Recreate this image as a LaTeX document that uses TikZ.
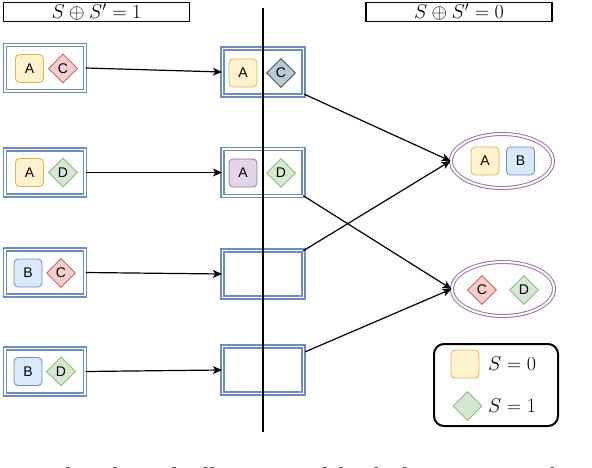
\RequirePackage{fix-cm}
\documentclass[tikz,border=0pt]{standalone}
\usepackage{fontspec}
\newfontfamily\lab{Liberation Sans}
\newfontfamily\capfont{Liberation Serif}
\usetikzlibrary{shapes.geometric,arrows.meta,calc}
\definecolor{ylwF}{HTML}{FFF2CC}\definecolor{ylwS}{HTML}{D6B656}
\definecolor{bluF}{HTML}{DAE8FC}\definecolor{bluS}{HTML}{6C8EBF}
\definecolor{redF}{HTML}{F8CECC}\definecolor{redS}{HTML}{B85450}
\definecolor{grnF}{HTML}{D5E8D4}\definecolor{grnS}{HTML}{82B366}
\definecolor{purF}{HTML}{E1D5E7}\definecolor{purS}{HTML}{9673A6}
\definecolor{gryF}{HTML}{BAC8D3}\definecolor{gryS}{HTML}{23445D}
\begin{document}
\begin{tikzpicture}[x=1pt,y=-1pt,
  lbl/.style={font=\lab\fontsize{14}{16}\selectfont},
  sq/.style={lbl, rectangle, rounded corners=4pt, minimum width=28pt, minimum height=28pt, inner sep=0pt, line width=0.8pt},
  dm/.style={lbl, diamond, minimum width=29pt, minimum height=29pt, inner sep=0pt, line width=0.8pt},
  ylw/.style={sq, fill=ylwF, draw=ylwS},
  blu/.style={sq, fill=bluF, draw=bluS},
  pur/.style={sq, fill=purF, draw=purS},
  red/.style={dm, fill=redF, draw=redS},
  grn/.style={dm, fill=grnF, draw=grnS},
  gry/.style={dm, fill=gryF, draw=gryS},
  pairbox/.style={rectangle, draw=bluS, double=white, double distance=1.8pt, line width=1.3pt, minimum width=80pt, minimum height=46pt, inner sep=0pt},
  setell/.style={ellipse, draw=purS, double=white, double distance=2pt, line width=1pt, minimum width=102pt, minimum height=54pt, inner sep=0pt},
  hdr/.style={rectangle, draw=black, line width=1.5pt, minimum width=186pt, minimum height=19pt, inner sep=0pt, font=\fontsize{20}{22}\selectfont},
  arr/.style={-{Stealth[length=9pt,width=8pt,inset=2.5pt]}, line width=1.2pt},
  leg/.style={font=\fontsize{20}{22}\selectfont, anchor=west, inner sep=0pt}
]
\useasboundingbox (0,0) rectangle (592,468);
\clip (0,0) rectangle (592,468);
% headers
\node[hdr] (h1) at (96.5,12) {$S\oplus S'=1$};
\node[hdr] (h2) at (459,12) {$S\oplus S'=0$};
% left boxes
\node[pairbox] (l1) at (45,68) {};
\node[pairbox] (l2) at (45,172.5) {};
\node[pairbox] (l3) at (45,272.5) {};
\node[pairbox] (l4) at (45,371.5) {};
\node[ylw] (l1a) at (29.5,68.5) {A};
\node[red] (l1c) at (63,68.5) {C};
\node[ylw] (l2a) at (29.5,172.5) {A};
\node[grn] (l2d) at (63,172.5) {D};
\node[blu] (l3b) at (28,273) {B};
\node[red] (l3c) at (61,273) {C};
\node[blu] (l4b) at (28,371.5) {B};
\node[grn] (l4d) at (61,371.5) {D};
% middle boxes
\node[pairbox, minimum width=81pt, minimum height=47pt] (m1) at (263,72) {};
\node[pairbox, minimum width=81pt, minimum height=47pt] (m2) at (263,172.5) {};
\node[pairbox, minimum width=81pt, minimum height=47pt] (m3) at (263,274) {};
\node[pairbox, minimum width=81pt, minimum height=47pt] (m4) at (263,370) {};
\node[ylw] (m1a) at (243,73) {A};
\node[gry] (m1c) at (281,73) {C};
\node[pur] (m2a) at (243,173) {A};
\node[grn] (m2d) at (281,173) {D};
% ellipses
\node[setell] (e1) at (502,161) {};
\node[setell] (e2) at (503,289) {};
\node[ylw] (e1a) at (485,161) {A};
\node[blu] (e1b) at (520.5,161) {B};
\node[red] (e2c) at (482,290) {C};
\node[grn] (e2d) at (524,290) {D};
% vertical separator
\coordinate (vtop) at (263,8);
\coordinate (vbot) at (263,432);
\draw[line width=2.6pt] (vtop) -- (vbot);
% arrows
\draw[arr] (l1.east) -- (m1.west);
\draw[arr] (l2.east) -- (m2.west);
\draw[arr] (l3.east) -- (m3.west);
\draw[arr] (l4.east) -- (m4.west);
\draw[arr] ($(m1.south east)+(0,-2)$) -- (e1.west);
\draw[arr] ($(m3.north east)+(-1,1)$) -- (e1.west);
\draw[arr] ($(m2.south east)+(-1,-1)$) -- (e2.west);
\draw[arr] ($(m4.north east)+(1,6)$) -- (e2.west);
% legend
\node[rectangle, draw, line width=2pt, rounded corners=10pt, minimum width=124pt, minimum height=82pt] (lg) at (496,385) {};
\node[sq, fill=ylwF, draw=ylwS] (lgs) at (465,364) {};
\node[dm, fill=grnF, draw=grnS] (lgd) at (467.5,406) {};
\node[leg] (lt0) at (488,364) {$S=0$};
\node[leg] (lt1) at (488,406) {$S=1$};
% cut caption
\node[anchor=base west, inner sep=0pt, font=\capfont\fontsize{24}{26}\selectfont] (cap) at (25,484) {1. The arbitrarily illustration of the duality partition. The};
\end{tikzpicture}
\end{document}
